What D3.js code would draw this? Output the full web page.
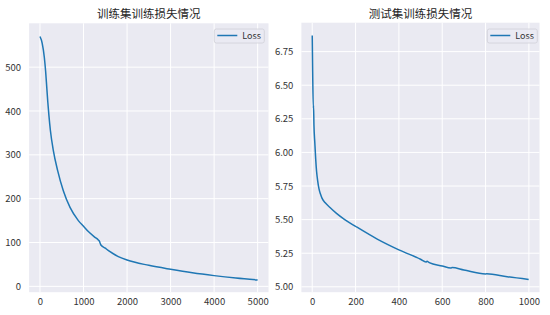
<!DOCTYPE html>
<html><head><meta charset="utf-8">
<script src="https://cdn.jsdelivr.net/npm/d3@7"></script>
<style>
html,body{margin:0;padding:0;background:#fff;}
svg{display:block;font-family:"Noto Sans CJK SC","DejaVu Sans",sans-serif;}
</style></head>
<body>
<svg id="chart" width="550" height="315"></svg>
<script>
// ---- data ----
const trainTitle = "训练集训练损失情况";
const testTitle = "测试集训练损失情况";
const legendLabel = "Loss";
const trainEpochs = [0, 50, 100, 130, 155, 180, 205, 240, 306, 406, 536, 690, 881, 1000, 1111, 1249, 1340, 1365, 1395, 1500, 1609, 1800, 2000, 2500, 3000, 3500, 4000, 4500, 4999];
const trainLoss   = [570, 555, 522, 490, 455, 420, 390, 355, 310, 264, 218, 180, 150, 137, 125, 113, 106, 103, 95, 87, 79, 68, 60, 48, 39, 31, 24.5, 19, 14.5];
const testEpochs = [0, 2, 5, 6, 8, 12, 16, 20, 25, 31, 38, 45, 60, 82, 112, 150, 200, 300, 400, 500, 525, 530, 540, 600, 640, 645, 700, 800, 805, 900, 999];
const testLoss   = [6.87, 6.60, 6.33, 6.35, 6.20, 6.07, 5.95, 5.86, 5.79, 5.73, 5.69, 5.66, 5.625, 5.59, 5.546, 5.50, 5.45, 5.355, 5.275, 5.205, 5.185, 5.19, 5.18, 5.155, 5.14, 5.143, 5.125, 5.095, 5.098, 5.075, 5.055];
const trainXTicks = [0, 1000, 2000, 3000, 4000, 5000];
const trainYTicks = [0, 100, 200, 300, 400, 500];
const testXTicks = [0, 200, 400, 600, 800, 1000];
const testYTicks = [5.00, 5.25, 5.50, 5.75, 6.00, 6.25, 6.50, 6.75];

const svg = d3.select("#chart");
const lineColor = "#1f77b4";

function panel(opt){
  const {x0,x1,y0,y1,xs,ys,title,xTicks,yTicks,yFmt,legendX} = opt;
  const g = svg.append("g");
  const xScale = d3.scaleLinear().domain(opt.xDomain).range([x0,x1]);
  const yScale = d3.scaleLinear().domain(opt.yDomain).range([y1,y0]);
  g.append("rect").attr("x",x0).attr("y",y0).attr("width",x1-x0).attr("height",y1-y0).attr("fill","#eaeaf2");
  // grid
  g.selectAll(".gx").data(xTicks).join("line")
    .attr("x1",d=>xScale(d)).attr("x2",d=>xScale(d)).attr("y1",y0).attr("y2",y1)
    .attr("stroke","#fff").attr("stroke-width",1);
  g.selectAll(".gy").data(yTicks).join("line")
    .attr("y1",d=>yScale(d)).attr("y2",d=>yScale(d)).attr("x1",x0).attr("x2",x1)
    .attr("stroke","#fff").attr("stroke-width",1);
  // axes (labels only)
  const xAxis = d3.axisBottom(xScale).tickValues(xTicks).tickSize(0).tickPadding(0).tickFormat(d3.format("d"));
  const ax = g.append("g").attr("transform",`translate(0,${y1+6})`).call(xAxis);
  ax.select(".domain").remove();
  ax.selectAll("text").attr("font-size","9.5px").attr("fill","#333").attr("dy","0.75em").style("font-family","'Noto Sans CJK SC',sans-serif");
  const yAxis = d3.axisLeft(yScale).tickValues(yTicks).tickSize(0).tickPadding(0).tickFormat(yFmt);
  const ay = g.append("g").attr("transform",`translate(${x0-8},0)`).call(yAxis);
  ay.select(".domain").remove();
  ay.selectAll("text").attr("font-size","9.5px").attr("fill","#333").style("font-family","'Noto Sans CJK SC',sans-serif");
  // line
  const line = d3.line().x((d,i)=>xScale(xs[i])).y((d,i)=>yScale(ys[i])).curve(d3.curveMonotoneX);
  g.append("path").datum(ys).attr("d",line).attr("fill","none").attr("stroke",lineColor).attr("stroke-width",1.5);
  // title
  g.append("text").attr("x",(x0+x1)/2).attr("y",y0-5).attr("text-anchor","middle")
    .attr("font-size","11.5px").attr("fill","#262626").text(title);
  // legend
  const lg = g.append("g").attr("transform",`translate(${legendX},29)`);
  lg.append("rect").attr("x",0).attr("y",0).attr("width",50).attr("height",14).attr("rx",2)
    .attr("fill","#eaeaf2").attr("fill-opacity",0.8).attr("stroke","#d0d0d8").attr("stroke-width",0.8);
  lg.append("line").attr("x1",3).attr("x2",23).attr("y1",6.5).attr("y2",6.5).attr("stroke",lineColor).attr("stroke-width",1.5);
  lg.append("text").attr("x",28).attr("y",10).attr("font-size","9px").attr("fill","#333").text(legendLabel);
}

panel({x0:29.1,x1:268.5,y0:23.3,y1:292.2,xs:trainEpochs,ys:trainLoss,title:trainTitle,
  xTicks:trainXTicks,yTicks:trainYTicks,yFmt:d3.format("d"),
  xDomain:[-250,5249],yDomain:[-13.3,600],legendX:214.3});
panel({x0:301.4,x1:539.5,y0:22.7,y1:292.2,xs:testEpochs,ys:testLoss,title:testTitle,
  xTicks:testXTicks,yTicks:testYTicks,yFmt:d3.format(".2f"),
  xDomain:[-50,1049],yDomain:[4.96,6.965],legendX:487.3});
</script>
</body></html>
